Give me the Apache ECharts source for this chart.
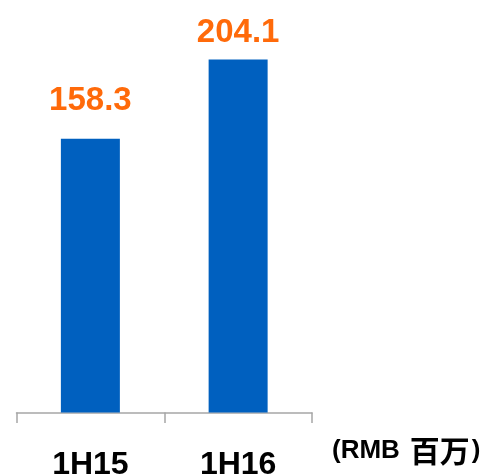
<!DOCTYPE html>
<html><head><meta charset="utf-8">
<script src="https://cdn.jsdelivr.net/npm/echarts@6/dist/echarts.min.js"></script>
<style>html,body{margin:0;padding:0;background:#fff}#c{width:489px;height:476px}</style>
</head><body><div id="c"></div>
<script>
const categories = ['1H15', '1H16'];
const values = [158.3, 204.1];
const unitLatin = '(RMB';
const unitCJK = '百万';
const labelOffsets = [-9, 2];

const chart = echarts.init(document.getElementById('c'), null, {renderer: 'canvas'});
chart.setOption({
  animation: false,
  grid: {left: 16.5, right: 177, top: 14.8, bottom: 63.5, containLabel: false, outerBoundsMode: 'none'},
  xAxis: {
    type: 'category',
    data: categories,
    axisLine: {lineStyle: {color: '#A6A6A6', width: 1.5}},
    axisTick: {show: true, length: 10.5, lineStyle: {color: '#A6A6A6', width: 1.5}},
    axisLabel: {margin: 37, fontSize: 32, fontWeight: 'bold', color: '#000', fontFamily: 'Liberation Sans'}
  },
  yAxis: {type: 'value', min: 0, max: 230, show: false, splitLine: {show: false}},
  graphic: [{
    type: 'text',
    left: 332,
    top: 436,
    style: {
      text: '{a|' + unitLatin + '}{b|' + unitCJK + '}{a|)}',
      rich: {
        a: {fontSize: 26, fontWeight: 'bold', fill: '#000', fontFamily: 'Liberation Sans', lineHeight: 30},
        b: {fontSize: 30, fontWeight: 'bold', fill: '#000', fontFamily: 'Noto Sans CJK SC', lineHeight: 30, padding: [0, 2, 0, 10]}
      }
    }
  }],
  series: [{
    type: 'bar',
    barWidth: 59,
    data: values.map((v, i) => ({value: v, label: {offset: [0, labelOffsets[i]]}})),
    itemStyle: {color: '#0060BF'},
    label: {show: true, position: 'top', distance: 12, fontSize: 33, fontWeight: 'bold', color: '#FF6A0A', fontFamily: 'Liberation Sans'}
  }]
});
</script></body></html>
